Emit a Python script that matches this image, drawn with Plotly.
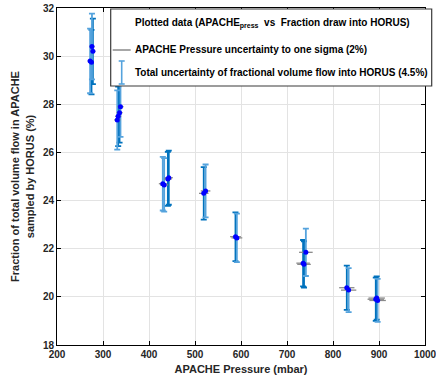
import plotly.graph_objects as go

# Series A (darker error bars)
pressure_a = [275, 278, 333, 336, 441, 443, 519, 588, 735, 737, 830, 893, 895]
fraction_a = [29.75, 30.2, 27.5, 27.65, 24.9, 24.95, 24.3, 22.5, 21.4, 21.35, 20.38, 19.9, 19.95]
# Series B (lighter error bars)
pressure_b = [272, 276, 331, 338, 430, 433, 523, 591, 741, 834, 897]
fraction_b = [29.8, 30.4, 27.35, 27.9, 24.7, 24.65, 24.4, 22.45, 21.85, 20.28, 19.85]

pressure_unc_pct = 2.0
fraction_unc_pct = 4.5

x_ticks = [200, 300, 400, 500, 600, 700, 800, 900, 1000]
y_ticks = [18, 20, 22, 24, 26, 28, 30, 32]

legend_labels = [
    "Plotted data (APACHE<sub>press</sub>  vs  Fraction draw into HORUS)",
    "APACHE Pressure uncertainty to one sigma (2%)",
    "Total uncertainty of fractional volume flow into HORUS (4.5%)",
]

DARK = "#0072BD"
LIGHT = "#55A3DD"
GRAY = "#8a8a8a"
FONT = "Liberation Sans, Arial, sans-serif"
TXT = "#262626"

fig = go.Figure()

for px_, fy_, col in [(pressure_a, fraction_a, DARK), (pressure_b, fraction_b, LIGHT)]:
    fig.add_trace(go.Scatter(
        x=px_, y=fy_, mode="markers",
        marker=dict(size=5, color=col, opacity=0),
        error_y=dict(type="percent", value=fraction_unc_pct, color=col, thickness=1.8, width=3),
        showlegend=False, hoverinfo="skip"))

allx = pressure_a + pressure_b
ally = fraction_a + fraction_b
fig.add_trace(go.Scatter(
    x=allx, y=ally, mode="markers",
    marker=dict(size=5, color=GRAY, opacity=0),
    error_x=dict(type="percent", value=pressure_unc_pct, color=GRAY, thickness=1.3, width=0),
    showlegend=False, hoverinfo="skip"))

fig.add_trace(go.Scatter(
    x=allx, y=ally, mode="markers",
    marker=dict(size=5, color="#0000FF"),
    showlegend=False))

# plot area in pixels
L, R, T, B = 57.3, 425.3, 8.0, 345.0
W, H = 436, 383

def px2x(p):
    return (p - L) / (R - L)

def py2y(p):
    return (B - p) / (B - T)

shapes = []
annotations = []
# legend box
shapes.append(dict(type="rect", xref="paper", yref="paper",
                   x0=px2x(111), x1=px2x(432), y0=py2y(86), y1=py2y(9),
                   fillcolor="white", line=dict(color="#3a3a3a", width=1.2), layer="above"))
# legend icons
shapes.append(dict(type="line", xref="paper", yref="paper",
                   x0=px2x(113), x1=px2x(131), y0=py2y(50), y1=py2y(50),
                   line=dict(color=GRAY, width=1.5), layer="above"))
ex = 122
shapes.append(dict(type="line", xref="paper", yref="paper",
                   x0=px2x(ex), x1=px2x(ex), y0=py2y(61), y1=py2y(84),
                   line=dict(color=LIGHT, width=1.6), layer="above"))
for yy in (61, 84):
    shapes.append(dict(type="line", xref="paper", yref="paper",
                       x0=px2x(ex - 3), x1=px2x(ex + 3), y0=py2y(yy), y1=py2y(yy),
                       line=dict(color=LIGHT, width=1.6), layer="above"))

fig.add_trace(go.Scatter(x=[px2x(121)], y=[py2y(24)], xaxis="x2", yaxis="y2",
                         mode="markers", marker=dict(size=5, color="#0000FF"),
                         showlegend=False, hoverinfo="skip", cliponaxis=False))

for lab, yy in zip(legend_labels, [24, 50, 72]):
    annotations.append(dict(xref="paper", yref="paper", x=px2x(133), y=py2y(yy),
                            xanchor="left", yanchor="middle", showarrow=False,
                            text="<b>" + lab + "</b>",
                            font=dict(family=FONT, size=10, color="black")))

fig.update_layout(
    width=W, height=H,
    margin=dict(l=L, r=W - R, t=T, b=H - B, pad=0, autoexpand=False),
    paper_bgcolor="white", plot_bgcolor="white",
    shapes=shapes, annotations=annotations,
    font=dict(family=FONT, color=TXT),
    xaxis=dict(range=[200, 1000], tickvals=x_ticks, automargin=False,
               ticktext=["<b>%d</b>" % v for v in x_ticks],
               ticklabeloverflow="allow",
               showgrid=True, gridcolor="#e3e3e3", gridwidth=1,
               showline=True, linecolor="black", linewidth=1, mirror="ticks",
               ticks="inside", ticklen=4, tickcolor="black", zeroline=False,
               tickfont=dict(size=10, family=FONT, color=TXT),
               title=dict(text="<b>APACHE Pressure (mbar)</b>", standoff=6,
                          font=dict(size=11, family=FONT, color=TXT))),
    yaxis=dict(range=[18, 32], tickvals=y_ticks, automargin=False,
               ticktext=["<b>%d</b>" % v for v in y_ticks],
               ticklabeloverflow="allow",
               showgrid=True, gridcolor="#e3e3e3", gridwidth=1,
               showline=True, linecolor="black", linewidth=1, mirror="ticks",
               ticks="inside", ticklen=4, tickcolor="black", zeroline=False,
               tickfont=dict(size=10, family=FONT, color=TXT),
               title=dict(text="<b>Fraction of total volume flow in APACHE<br>sampled by HORUS (%)</b>",
                          standoff=6, font=dict(size=11, family=FONT, color=TXT))),
    xaxis2=dict(overlaying="x", range=[0, 1], visible=False, fixedrange=True),
    yaxis2=dict(overlaying="y", range=[0, 1], visible=False, fixedrange=True),
)

fig.write_html("out.html", config={"displayModeBar": False},
               post_script="document.body.style.margin='0';document.body.style.overflow='hidden';")
